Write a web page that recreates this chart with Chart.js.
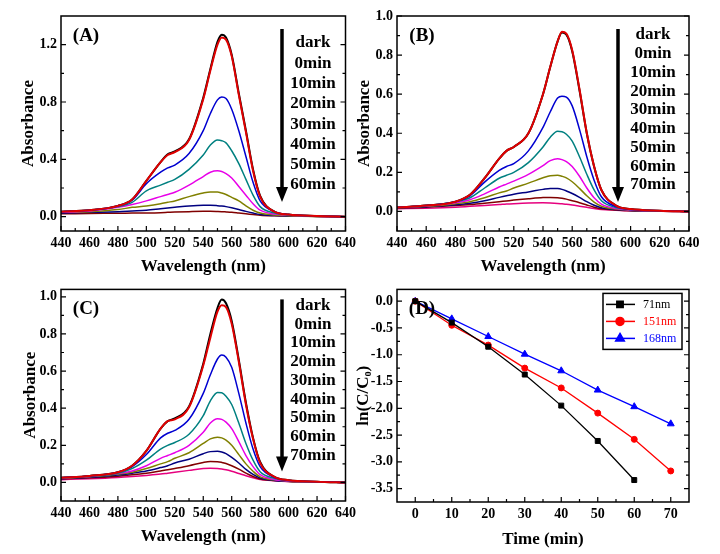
<!DOCTYPE html>
<html>
<head>
<meta charset="utf-8">
<script src="https://cdn.jsdelivr.net/npm/chart.js@4.4.0/dist/chart.umd.min.js"></script>
<style>
  body { margin: 0; background: #fff; }
  canvas { position: absolute; }
</style>
</head>
<body>
<canvas id="cA" width="360" height="277" style="left:0;top:0"></canvas>
<canvas id="cB" width="370" height="277" style="left:350px;top:0"></canvas>
<canvas id="cC" width="360" height="277" style="left:0;top:277px"></canvas>
<canvas id="cD" width="370" height="277" style="left:350px;top:277px"></canvas>
<script>
// wavelength samples (nm) shared by all spectra
const WL = [440,460,480,490,500,510,515,520,530,540,545,550,553,556,560,565,570,575,580,590,600,620,640];

// panel A
const A_dark = [.035,.045,.075,.12,.25,.38,.435,.455,.54,.83,1.03,1.22,1.27,1.25,1.13,.86,.6,.33,.145,.035,.015,.005,0];
const A_0    = [.035,.045,.075,.12,.25,.38,.43,.45,.535,.82,1.02,1.2,1.25,1.235,1.12,.85,.59,.32,.14,.035,.015,.005,0];
const A_10   = [.035,.045,.075,.115,.23,.31,.34,.36,.44,.6,.72,.815,.835,.825,.75,.6,.42,.24,.11,.035,.015,.005,0];
const A_20   = [.035,.045,.07,.1,.18,.22,.24,.26,.33,.43,.5,.535,.53,.515,.46,.37,.26,.15,.07,.025,.012,.004,0];
const A_30   = [.03,.04,.065,.085,.11,.14,.155,.17,.22,.28,.31,.32,.315,.3,.27,.21,.15,.09,.045,.018,.01,.003,0];
const A_40   = [.03,.035,.05,.065,.075,.09,.1,.11,.14,.165,.172,.172,.165,.155,.135,.11,.075,.045,.025,.012,.007,.002,0];
const A_50   = [.025,.03,.035,.04,.045,.055,.06,.065,.075,.08,.08,.077,.074,.07,.062,.05,.037,.025,.015,.008,.005,.002,0];
const A_60   = [.02,.022,.024,.025,.026,.028,.03,.032,.035,.037,.037,.036,.035,.033,.03,.025,.02,.015,.01,.006,.004,.002,0];

// panel B
const B_dark = [.02,.03,.05,.085,.17,.27,.31,.33,.4,.6,.74,.87,.915,.905,.82,.62,.4,.23,.11,.03,.012,.004,0];
const B_0    = [.02,.03,.05,.085,.17,.27,.31,.33,.4,.6,.74,.87,.92,.91,.825,.625,.4,.23,.11,.03,.012,.004,0];
const B_10   = [.02,.03,.05,.08,.15,.21,.23,.245,.31,.43,.51,.58,.59,.585,.54,.42,.28,.16,.075,.025,.01,.004,0];
const B_20   = [.02,.03,.05,.07,.12,.17,.185,.2,.25,.33,.38,.41,.408,.395,.36,.28,.19,.11,.055,.02,.01,.003,0];
const B_30   = [.02,.028,.045,.06,.09,.125,.14,.155,.19,.235,.26,.27,.265,.255,.23,.18,.12,.07,.038,.015,.008,.003,0];
const B_40   = [.02,.026,.04,.05,.07,.095,.105,.12,.145,.172,.183,.185,.18,.172,.152,.118,.08,.048,.027,.012,.006,.002,0];
const B_50   = [.018,.024,.034,.042,.055,.072,.08,.088,.1,.113,.118,.117,.113,.105,.092,.072,.05,.032,.019,.01,.005,.002,0];
const B_60   = [.018,.022,.03,.035,.042,.05,.054,.058,.065,.071,.072,.07,.067,.063,.055,.045,.033,.022,.014,.008,.004,.002,0];
const B_70   = [.014,.017,.022,.026,.03,.035,.038,.04,.043,.044,.043,.041,.039,.037,.033,.027,.021,.015,.01,.006,.003,.001,0];

// panel C
const C_dark = [.025,.035,.055,.09,.17,.29,.33,.345,.41,.64,.8,.94,.985,.965,.87,.66,.43,.24,.11,.03,.012,.004,0];
const C_0    = [.025,.035,.055,.09,.17,.29,.33,.34,.405,.63,.78,.92,.955,.945,.855,.65,.42,.235,.105,.03,.012,.004,0];
const C_10   = [.025,.035,.055,.085,.15,.24,.265,.28,.34,.48,.58,.665,.686,.675,.62,.48,.32,.18,.085,.028,.01,.004,0];
const C_20   = [.025,.033,.05,.075,.12,.18,.2,.215,.26,.36,.44,.485,.483,.465,.42,.32,.21,.12,.058,.022,.01,.003,0];
const C_30   = [.025,.032,.048,.062,.09,.13,.145,.16,.2,.27,.32,.343,.34,.325,.29,.22,.145,.085,.042,.016,.008,.003,0];
const C_40   = [.022,.03,.045,.055,.075,.1,.112,.13,.16,.21,.235,.244,.24,.228,.2,.15,.1,.06,.03,.014,.007,.002,0];
const C_50   = [.02,.028,.04,.05,.062,.08,.09,.105,.125,.155,.166,.168,.164,.155,.135,.105,.07,.043,.024,.011,.006,.002,0];
const C_60   = [.02,.025,.034,.041,.05,.062,.068,.075,.09,.108,.113,.112,.108,.102,.09,.072,.05,.032,.019,.01,.005,.002,0];
const C_70   = [.015,.02,.027,.032,.038,.045,.05,.055,.065,.075,.077,.075,.072,.068,.06,.048,.036,.025,.016,.009,.005,.002,0];

// panel D: ln(C/C0) vs time
const TIME = [0,10,20,30,40,50,60,70];
const D_71  = [0,-0.4,-0.85,-1.37,-1.95,-2.61,-3.34];
const D_151 = [0,-0.45,-0.82,-1.25,-1.62,-2.09,-2.58,-3.17];
const D_168 = [0,-0.33,-0.66,-0.99,-1.3,-1.66,-1.97,-2.29];
const D_NAMES = ['71nm','151nm','168nm'];

const STEPS_A = ['dark','0min','10min','20min','30min','40min','50min','60min'];
const STEPS_BC = ['dark','0min','10min','20min','30min','40min','50min','60min','70min'];

const WL_TICKS = [440,460,480,500,520,540,560,580,600,620,640];
const A_YTICKS = [0,0.4,0.8,1.2];
const BC_YTICKS = [0,0.2,0.4,0.6,0.8,1.0];
const D_XTICKS = [0,10,20,30,40,50,60,70];
const D_YTICKS = [-3.5,-3,-2.5,-2,-1.5,-1,-0.5,0];

const SPEC_COLORS = ['#000000','#e00000','#0000d0','#008080','#e800e8','#808000','#000080','#800000','#e6007e'];

const FONT = "'Liberation Serif', 'Times New Roman', serif";
Chart.defaults.font.family = FONT;
Chart.defaults.font.size = 14;
Chart.defaults.font.weight = 'bold';
Chart.defaults.color = '#000';
Chart.defaults.animation = false;

function minors(ticks, min, max) {
  const step = ticks[1] - ticks[0];
  const out = [];
  for (let i = -1; i < ticks.length; i++) {
    const v = (i < 0 ? ticks[0] - step : ticks[i]) + step / 2;
    if (v > min + 1e-9 && v < max - 1e-9) out.push(v);
  }
  return out;
}

// frame, inward ticks, panel letter, arrow, step labels, legend
function decor(c) {
  return {
    id: 'decor',
    afterDatasetsDraw(chart) {
      const {ctx, chartArea: a, scales: {x, y}} = chart;
      ctx.save();
      ctx.strokeStyle = '#000';
      ctx.lineWidth = 1.2;
      ctx.beginPath();
      [[c.xt, 5], [minors(c.xt, x.min, x.max), 3]].forEach(([vals, len]) => vals.forEach(v => {
        const p = x.getPixelForValue(v);
        ctx.moveTo(p, a.bottom); ctx.lineTo(p, a.bottom - len);
      }));
      [[c.yt, 5], [minors(c.yt, y.min, y.max), 3]].forEach(([vals, len]) => vals.forEach(v => {
        const p = y.getPixelForValue(v);
        ctx.moveTo(a.left, p); ctx.lineTo(a.left + len, p);
        ctx.moveTo(a.right, p); ctx.lineTo(a.right - len, p);
      }));
      ctx.stroke();
      ctx.lineWidth = 1.5;
      ctx.strokeRect(a.left, a.top, a.right - a.left, a.bottom - a.top);

      ctx.fillStyle = '#000';
      ctx.textAlign = 'center';
      ctx.textBaseline = 'middle';
      ctx.font = 'bold 19px ' + FONT;
      ctx.fillText(c.letter, a.left + 25, a.top + 20);

      if (c.arrow) {
        const ax = a.left + c.arrow[0], y1 = a.top + c.arrow[1], y2 = a.top + c.arrow[2];
        ctx.lineWidth = 3.5;
        ctx.beginPath();
        ctx.moveTo(ax, y1); ctx.lineTo(ax, y2 - 12);
        ctx.stroke();
        ctx.beginPath();
        ctx.moveTo(ax - 6, y2 - 15); ctx.lineTo(ax + 6, y2 - 15); ctx.lineTo(ax, y2);
        ctx.closePath();
        ctx.fill();
      }
      if (c.steps) {
        ctx.font = 'bold 17px ' + FONT;
        c.steps.forEach((t, i) => ctx.fillText(t, a.left + c.lab[0], a.top + c.lab[1] + i * c.lab[2]));
      }
      if (c.legend) {
        const lx = a.left + 206, ly = a.top + 4;
        ctx.lineWidth = 1.5;
        ctx.strokeRect(lx, ly, 79, 56);
        ctx.font = 'normal 12px ' + FONT;
        ctx.textAlign = 'left';
        chart.data.datasets.forEach((ds, i) => {
          const yy = ly + 11 + i * 17;
          ctx.strokeStyle = ds.borderColor;
          ctx.fillStyle = ds.borderColor;
          ctx.lineWidth = 1.5;
          ctx.beginPath();
          ctx.moveTo(lx + 3, yy); ctx.lineTo(lx + 32, yy);
          ctx.stroke();
          Chart.helpers.drawPoint(ctx, {pointStyle: ds.pointStyle, radius: ds.pointRadius + 1, rotation: 0, borderWidth: 1}, lx + 17, yy);
          ctx.fillText(D_NAMES[i], lx + 40, yy);
        });
      }
      ctx.restore();
    }
  };
}

function scales(c) {
  return {
    x: {
      type: 'linear', min: c.xmin, max: c.xmax,
      grid: {display: false, drawTicks: false}, border: {display: false},
      afterBuildTicks: s => { s.ticks = c.xt.map(v => ({value: v})); },
      afterFit: s => { s.height = c.xh; },
      ticks: {autoSkip: false, maxRotation: 0, padding: 4, callback: v => String(v)},
      title: {display: true, text: c.xtitle, font: {size: 17, weight: 'bold', lineHeight: 1.2}, padding: {top: 0, bottom: c.xpad}}
    },
    y: {
      type: 'linear', min: c.ymin, max: c.ymax,
      grid: {display: false, drawTicks: false}, border: {display: false},
      afterBuildTicks: s => { s.ticks = c.yt.map(v => ({value: v})); },
      afterFit: s => { s.width = c.yw; },
      ticks: {padding: 4, callback: v => v.toFixed(1)},
      title: {display: true, text: c.ytitle, font: {size: 17, weight: 'bold', lineHeight: 1.2}, padding: {top: c.ypad, bottom: 0}}
    }
  };
}

function spectra(id, series, opts) {
  const c = Object.assign({xmin: 440, xmax: 640, xt: WL_TICKS, xtitle: 'Wavelength (nm)', ytitle: 'Absorbance'}, opts);
  new Chart(document.getElementById(id), {
    type: 'line',
    data: {
      datasets: series.map((arr, i) => ({
        data: WL.map((w, k) => ({x: w, y: arr[k]})),
        borderColor: SPEC_COLORS[i],
        borderWidth: i < 2 ? 2 : 1.5,
        pointRadius: 0,
        cubicInterpolationMode: 'monotone',
        order: i === 0 ? 1 : 0
      }))
    },
    options: {
      responsive: false,
      layout: {padding: c.pad},
      plugins: {legend: {display: false}, tooltip: {enabled: false}},
      scales: scales(c)
    },
    plugins: [decor(c)]
  });
}

spectra('cA', [A_dark, A_0, A_10, A_20, A_30, A_40, A_50, A_60], {
  ymin: -0.1, ymax: 1.4, yt: A_YTICKS, yw: 61, xh: 46, xpad: 0, ypad: 18,
  pad: {top: 16, right: 7, left: 0, bottom: 0},
  letter: '(A)', arrow: [221, 13, 186], steps: STEPS_A, lab: [252, 27, 20.3]
});
spectra('cB', [B_dark, B_0, B_10, B_20, B_30, B_40, B_50, B_60, B_70], {
  ymin: -0.1, ymax: 1.0, yt: BC_YTICKS, yw: 47, xh: 46, xpad: 0, ypad: 4,
  pad: {top: 16, right: 31, left: 0, bottom: 0},
  letter: '(B)', arrow: [221, 13, 186], steps: STEPS_BC, lab: [256, 19, 18.75]
});
spectra('cC', [C_dark, C_0, C_10, C_20, C_30, C_40, C_50, C_60, C_70], {
  ymin: -0.1, ymax: 1.04, yt: BC_YTICKS, yw: 61, xh: 53, xpad: 7, ypad: 20,
  pad: {top: 11, right: 7, left: 0, bottom: 0},
  letter: '(C)', arrow: [221, 10, 182], steps: STEPS_BC, lab: [252, 16, 18.75]
});

const dCfg = {
  xmin: -5, xmax: 75, xt: D_XTICKS, ymin: -3.75, ymax: 0.22, yt: D_YTICKS,
  yw: 47, xh: 52, xpad: 4, ypad: 3, xtitle: 'Time (min)', ytitle: 'ln(C/C\u2080)',
  pad: {top: 11, right: 31, left: 0, bottom: 0},
  letter: '(D)', legend: true
};
new Chart(document.getElementById('cD'), {
  type: 'line',
  data: {
    datasets: [
      {data: D_71.map((v, i) => ({x: TIME[i], y: v})), borderColor: '#000000', backgroundColor: '#000000', pointStyle: 'rect', pointRadius: 3.5},
      {data: D_151.map((v, i) => ({x: TIME[i], y: v})), borderColor: '#ff0000', backgroundColor: '#ff0000', pointStyle: 'circle', pointRadius: 3},
      {data: D_168.map((v, i) => ({x: TIME[i], y: v})), borderColor: '#0000ff', backgroundColor: '#0000ff', pointStyle: 'triangle', pointRadius: 4}
    ].map(ds => Object.assign(ds, {borderWidth: 1.3, pointBorderWidth: 1, tension: 0}))
  },
  options: {
    responsive: false,
    layout: {padding: dCfg.pad},
    plugins: {legend: {display: false}, tooltip: {enabled: false}},
    scales: scales(dCfg)
  },
  plugins: [decor(dCfg)]
});
</script>
</body>
</html>
